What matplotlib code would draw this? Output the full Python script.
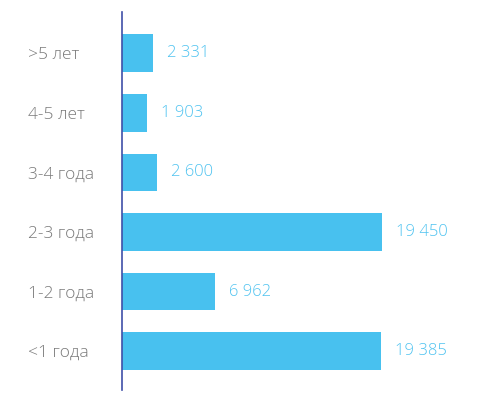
import matplotlib
matplotlib.use("Agg")
import matplotlib.pyplot as plt

categories = ["<1 года", "1-2 года", "2-3 года", "3-4 года", "4-5 лет", ">5 лет"]
values = [19385, 6962, 19450, 2600, 1903, 2331]
value_labels = ["19 385", "6 962", "19 450", "2 600", "1 903", "2 331"]

plt.rcParams['font.family'] = ['Open Sans', 'DejaVu Sans']

fig = plt.figure(figsize=(4.84, 3.96), dpi=100)
W, H = 484, 396
left, right, top, bottom = 122, 470, 12, 390
ax = fig.add_axes([left / W, 1 - bottom / H, (right - left) / W, (bottom - top) / H])

bar_color = "#48C1EF"
ax.barh(range(len(categories)), values, height=0.63, color=bar_color, zorder=2)
ax.set_ylim(-0.65, 5.69)
ax.set_xlim(0, 26030)

for i, (v, lab) in enumerate(zip(values, value_labels)):
    ax.annotate(lab, (v, i), xytext=(10, 0), textcoords="offset points",
                ha="left", va="center", color="#4FC3F0", fontsize=12,
                fontweight="light")

for s in ["top", "right", "bottom"]:
    ax.spines[s].set_visible(False)
ax.spines["left"].set_color("#3F4FA8")
ax.spines["left"].set_linewidth(1.2)
ax.set_xticks([])
ax.set_yticks(range(len(categories)))
ax.set_yticklabels(categories, fontsize=12.5, color="#7A7A7A", fontweight="light")
ax.tick_params(axis="y", length=0, pad=94 * 72 / 100)
for t in ax.get_yticklabels():
    t.set_horizontalalignment("left")

fig.savefig("out.png", dpi=100)
